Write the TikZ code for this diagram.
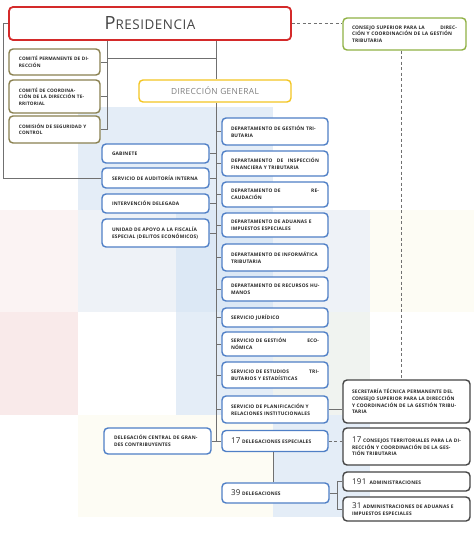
\documentclass[tikz,border=0pt]{standalone}
\usepackage{fontspec}
\setmainfont{Open Sans}
\definecolor{cred}{HTML}{D42A2A}
\definecolor{cgreen}{HTML}{8FB144}
\definecolor{colive}{HTML}{8A8150}
\definecolor{cyellow}{HTML}{F3C623}
\definecolor{cblue}{HTML}{4F7FC6}
\definecolor{cdark}{HTML}{454545}
\definecolor{cline}{HTML}{707070}
\definecolor{ctext}{HTML}{262626}
\definecolor{bgA}{HTML}{E4EDF7}
\definecolor{bgB}{HTML}{DCE8F5}
\definecolor{bgC}{HTML}{EEF2F7}
\definecolor{bgD}{HTML}{FBF3F3}
\definecolor{bgE}{HTML}{F9EAEA}
\definecolor{bgF}{HTML}{FDFCF4}
\definecolor{bgG}{HTML}{F0F3F0}
\newcommand\bxfont{\fontsize{4.85}{6.6}\selectfont\bfseries\addfontfeatures{LetterSpace=4}}
\newcommand\cmfont{\fontsize{4.7}{6.6}\selectfont\bfseries\addfontfeatures{LetterSpace=3}}
\newcommand\bignum[1]{{\fontsize{8}{8}\selectfont\mdseries #1}}
\begin{document}
\begin{tikzpicture}[x=1pt,y=-1pt,
  box/.style={draw, fill=white, rounded corners=4pt, line width=1.4pt, inner xsep=9pt, inner ysep=1pt, align=left, font=\bxfont, text=ctext},
  bluebox/.style={box, draw=cblue},
  olivebox/.style={box, draw=colive, inner xsep=10pt, font=\cmfont},
  graybox/.style={box, draw=cdark},
  greenbox/.style={box, draw=cgreen},
  conn/.style={draw=cline, line width=0.8pt},
  dconn/.style={draw=cline, line width=0.8pt, dash pattern=on 3pt off 2.5pt}]
\useasboundingbox (0,0) rectangle (474,533);
\fill[white] (0,0) rectangle (474,533);
% background blocks
\fill[bgA] (78,107) rectangle (273,210);
\fill[bgD] (0,210) rectangle (78,312);
\fill[bgC] (78,210) rectangle (176,312);
\fill[bgB] (176,210) rectangle (273,312);
\fill[bgC] (273,210) rectangle (370,312);
\fill[bgF] (370,210) rectangle (474,312);
\fill[bgE] (0,312) rectangle (78,415);
\fill[bgA] (176,312) rectangle (273,415);
\fill[bgG] (273,312) rectangle (370,415);
\fill[bgF] (78,415) rectangle (273,517);
\fill[bgA] (273,415) rectangle (370,517);

% top
\node[box, draw=cred, line width=1.8pt, minimum width=282pt, minimum height=33pt, align=center, text=cdark] (pres) at (150,23.5)
  {\fontsize{18.2}{18}\selectfont\mdseries P\fontsize{13.4}{13}\selectfont RESIDENCIA};
\node[greenbox, minimum width=123pt, minimum height=32pt, text width=105pt] (consejo) at (404.5,34)
  {CONSEJO SUPERIOR PARA LA\hfill DIREC-\\CIÓN Y COORDINACIÓN DE LA GESTIÓN\\TRIBUTARIA};
\node[olivebox, minimum width=91pt, minimum height=26pt, text width=71pt] (com1) at (54.5,62)
  {COMITÉ PERMANENTE DE DI-\\RECCIÓN};
\node[olivebox, minimum width=91pt, minimum height=33pt, text width=71pt] (com2) at (54.5,96.5)
  {COMITÉ DE COORDINA-\\CIÓN DE LA DIRECCIÓN TE-\\RRITORIAL};
\node[olivebox, minimum width=91pt, minimum height=27pt, text width=71pt] (com3) at (54.5,129.5)
  {COMISIÓN DE SEGURIDAD Y\\CONTROL};
\node[box, draw=cyellow, minimum width=152pt, minimum height=22pt, align=center, text=black!50] (dg) at (215,91)
  {\fontsize{8.4}{9}\selectfont\mdseries DIRECCIÓN GENERAL};

% right column
\node[bluebox, minimum width=106pt, minimum height=27pt, text width=88pt] (r1) at (275,131.5)
  {\mbox{DEPARTAMENTO DE GESTIÓN TRI-}\\BUTARIA};
\node[bluebox, minimum width=106pt, minimum height=25pt, text width=88pt] (r2) at (275,163.5)
  {DEPARTAMENTO\hfill DE\hfill INSPECCIÓN\\FINANCIERA Y TRIBUTARIA};
\node[bluebox, minimum width=106pt, minimum height=25pt, text width=88pt] (r3) at (275,194.5)
  {DEPARTAMENTO DE\hfill RE-\\CAUDACIÓN};
\node[bluebox, minimum width=106pt, minimum height=24pt, text width=88pt] (r4) at (275,225)
  {DEPARTAMENTO DE ADUANAS E\\IMPUESTOS ESPECIALES};
\node[bluebox, minimum width=106pt, minimum height=27pt, text width=88pt] (r5) at (275,257.5)
  {\mbox{DEPARTAMENTO DE INFORMÁTICA}\\TRIBUTARIA};
\node[bluebox, minimum width=106pt, minimum height=24pt, text width=88pt] (r6) at (275,289)
  {\mbox{DEPARTAMENTO DE RECURSOS HU-}\\MANOS};
\node[bluebox, minimum width=106pt, minimum height=19pt, text width=88pt] (r7) at (275,317.5)
  {SERVICIO JURÍDICO};
\node[bluebox, minimum width=106pt, minimum height=24pt, text width=88pt] (r8) at (275,344)
  {SERVICIO DE GESTIÓN\hfill ECO-\\NÓMICA};
\node[bluebox, minimum width=106pt, minimum height=26pt, text width=88pt] (r9) at (275,375)
  {SERVICIO DE ESTUDIOS\hfill TRI-\\BUTARIOS Y ESTADÍSTICAS};
\node[bluebox, minimum width=106pt, minimum height=27pt, text width=88pt] (r10) at (275,409.5)
  {\mbox{SERVICIO DE PLANIFICACIÓN Y}\\\mbox{RELACIONES INSTITUCIONALES}};
\node[bluebox, minimum width=106pt, minimum height=21pt, text width=88pt] (r11) at (275,441)
  {\bignum{17} DELEGACIONES ESPECIALES};

% left column
\node[bluebox, inner xsep=10pt, minimum width=107pt, minimum height=19pt, text width=87pt] (l1) at (155.5,153.5)
  {GABINETE};
\node[bluebox, inner xsep=10pt, minimum width=107pt, minimum height=20pt, text width=87pt] (l2) at (155.5,178)
  {\mbox{SERVICIO DE AUDITORÍA INTERNA}};
\node[bluebox, inner xsep=10pt, minimum width=107pt, minimum height=19pt, text width=87pt] (l3) at (155.5,203.5)
  {INTERVENCIÓN DELEGADA};
\node[bluebox, inner xsep=10pt, minimum width=107pt, minimum height=28pt, text width=87pt] (l4) at (155.5,233)
  {\mbox{UNIDAD DE APOYO A LA FISCALÍA}\\\mbox{ESPECIAL (DELITOS ECONÓMICOS)}};
\node[bluebox, inner xsep=10pt, minimum width=107pt, minimum height=26pt, text width=87pt] (l5) at (157.5,441)
  {\mbox{DELEGACIÓN CENTRAL DE GRAN-}\\DES CONTRIBUYENTES};

\node[bluebox, minimum width=107pt, minimum height=20pt, text width=89pt] (d39) at (275.5,493)
  {\bignum{39} DELEGACIONES};

% gray boxes
\node[graybox, minimum width=127pt, minimum height=43pt, text width=109pt] (g1) at (406.5,401.5)
  {\mbox{SECRETARÍA TÉCNICA PERMANENTE DEL}\\\mbox{CONSEJO SUPERIOR PARA LA DIRECCIÓN}\\\mbox{Y COORDINACIÓN DE LA GESTIÓN TRIBU-}\\TARIA};
\node[graybox, minimum width=127pt, minimum height=37pt, text width=109pt] (g2) at (406.5,446.5)
  {\mbox{\bignum{17} CONSEJOS TERRITORIALES PARA LA DI-}\\\mbox{RECCIÓN Y COORDINACIÓN DE LA GES-}\\TIÓN TRIBUTARIA};
\node[graybox, minimum width=127pt, minimum height=19pt, text width=109pt] (g3) at (406.5,481.5)
  {\bignum{191}\ \ ADMINISTRACIONES};
\node[graybox, minimum width=127pt, minimum height=24pt, text width=109pt] (g4) at (406.5,509)
  {\mbox{\bignum{31} ADMINISTRACIONES DE ADUANAS E}\\IMPUESTOS ESPECIALES};

% helper coordinates
\coordinate (tr) at (216,0);
\coordinate (lx) at (3,0);
\coordinate (cx) at (107,0);
\coordinate (hy) at (0,58);
\coordinate (vx) at (273,0);
\coordinate (bx) at (337,0);
\coordinate (dx) at (401,0);

% connectors
\draw[conn] (pres.west) -- (pres.west -| lx) |- (l2.west);
\draw[conn] (pres.south -| cx) -- (com3.east -| cx) -- (com3.east);
\draw[conn] (com1.east) -- (com1.east -| cx);
\draw[conn] (com2.east) -- (com2.east -| cx);
\draw[conn] (hy -| cx) -- (hy -| tr);
\draw[conn] (pres.south -| tr) -- (dg.north -| tr);
\draw[conn] (dg.south -| tr) -- (r11.west -| tr);
\foreach \n in {r1,r2,r3,r4,r5,r6,r7,r8,r9,r10,r11}
  \draw[conn] (\n.west) -- (\n.west -| tr);
\foreach \n in {l1,l2,l3,l4,l5}
  \draw[conn] (\n.east) -- (\n.east -| tr);
\draw[conn] (r11.south -| vx) -- (d39.north -| vx);
\draw[conn] (d39.east) -- (d39.east -| bx);
\draw[conn] (g3.west) -- (g3.west -| bx) -- (g4.west -| bx) -- (g4.west);
\draw[conn] (r10.east) -- (r10.east -| g1.west);
\draw[dconn] (pres.east) -- (pres.east -| consejo.west);
\draw[dconn] (consejo.south -| dx) -- (g1.north -| dx);
\draw[dconn] (r11.east) -- (r11.east -| g2.west);
\end{tikzpicture}
\end{document}
